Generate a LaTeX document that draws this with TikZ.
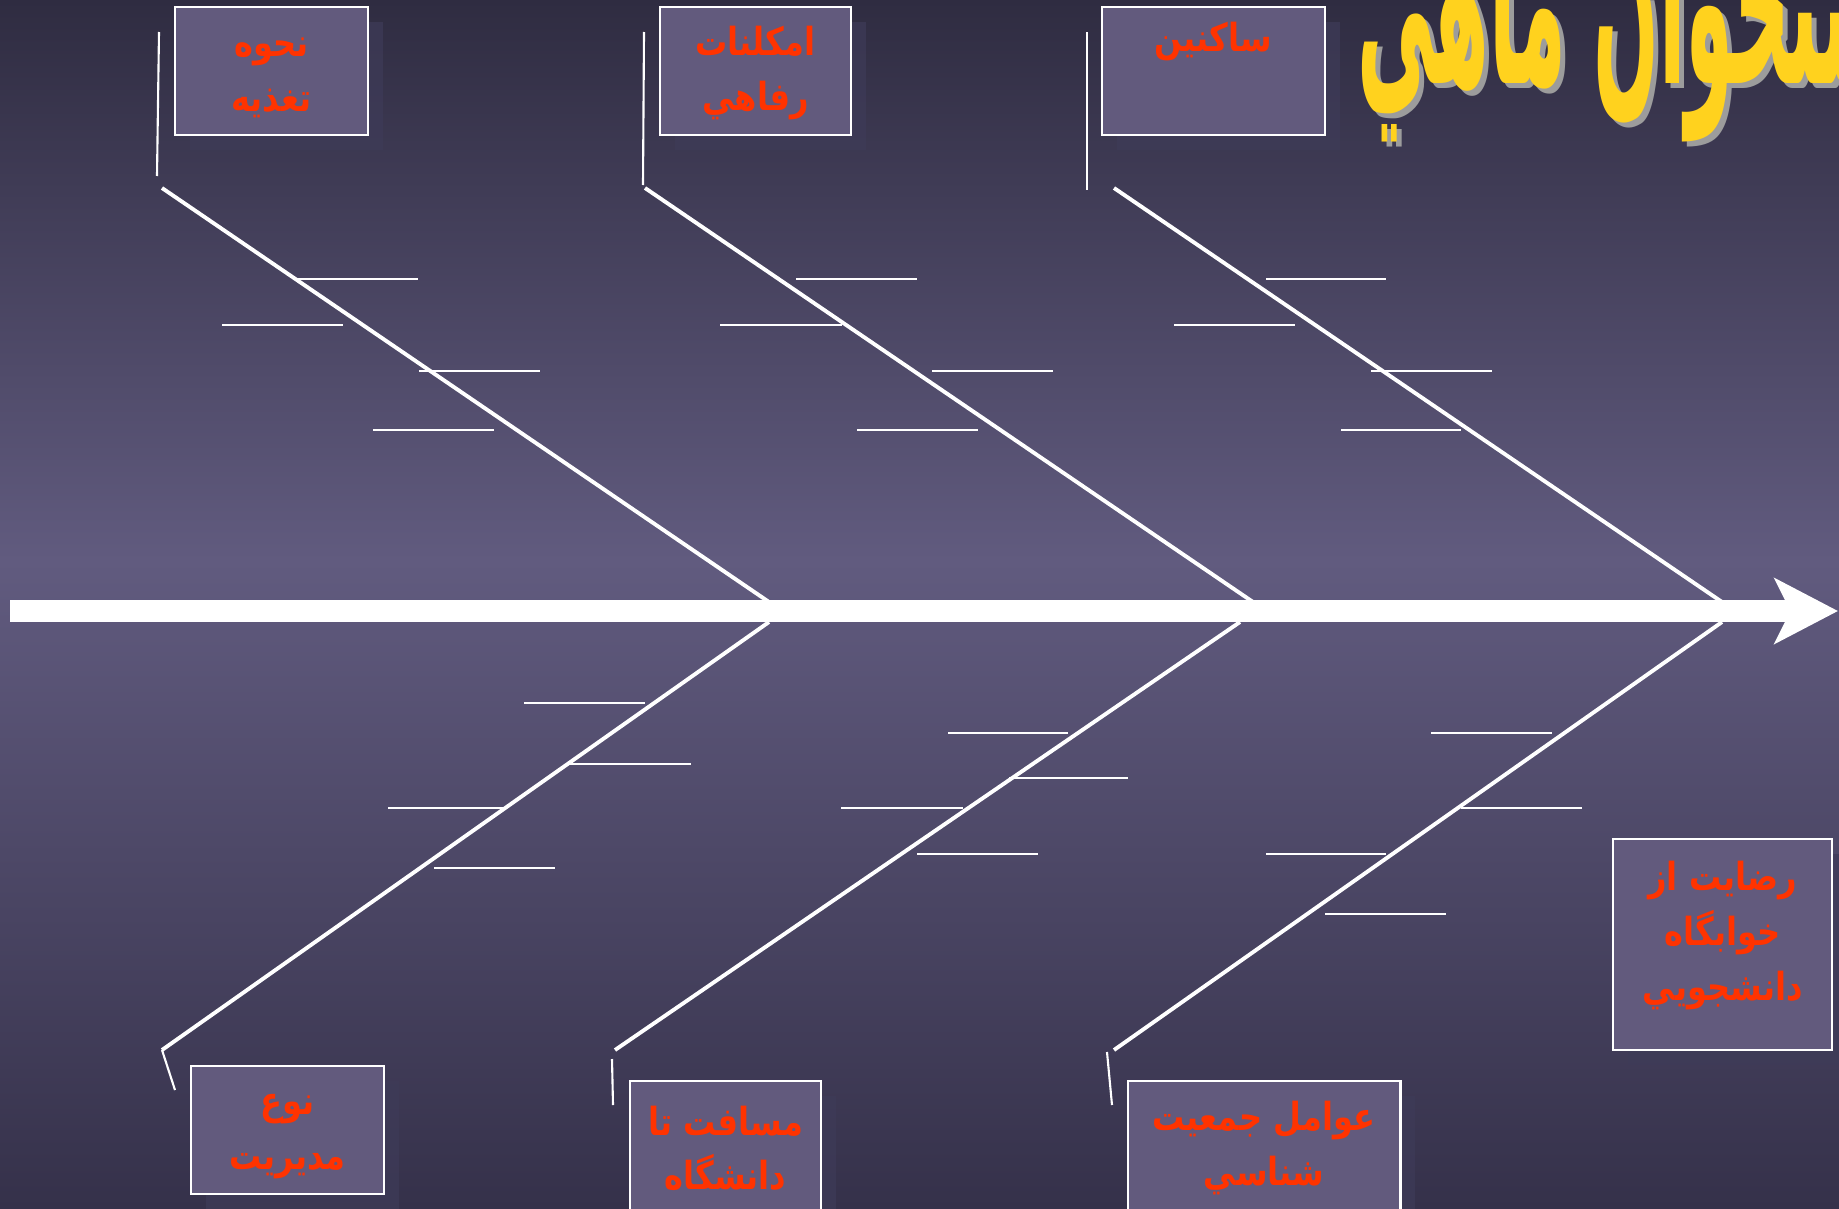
\documentclass[tikz,border=0pt]{standalone}
\usepackage{fontspec}
\usepackage{xcolor}
\usepackage{tikz}
\usetikzlibrary{positioning,arrows.meta,shadows}
\TeXXeTstate=1
\newfontfamily\arabicfont[Script=Arabic, FakeStretch=0.83]{DejaVu Sans}
\newfontfamily\titlefont[Script=Arabic]{DejaVu Sans}
\newcommand{\fa}[1]{\beginR #1\endR}

\definecolor{bgtop}{HTML}{2F2C41}
\definecolor{bgmid}{HTML}{615B7F}
\definecolor{bgbot}{HTML}{35314A}
\definecolor{boxfill}{HTML}{625A7D}
\definecolor{boxshade}{HTML}{3E3B58}
\definecolor{labelred}{HTML}{FF3300}
\definecolor{titleyellow}{HTML}{FFD21E}
\definecolor{titleshade}{HTML}{9C9C9C}

\tikzset{
  cause/.style={rectangle, fill=boxfill, draw=white, line width=0.8pt,
    minimum width=1.93cm, minimum height=1.28cm, inner sep=0pt, align=center,
    text=labelred, font=\arabicfont\bfseries\fontsize{11}{15.6}\selectfont,
    execute at begin node={\rule{0pt}{25pt}},
    drop shadow={fill=boxshade, opacity=0.7, shadow xshift=0.15cm, shadow yshift=-0.15cm}},
  effect/.style={cause, minimum width=2.19cm, minimum height=2.11cm,
    execute at begin node={}, execute at end node={\rule[-8pt]{0pt}{8pt}}},
  spine/.style={draw=white, line width=6pt, -{Stealth[length=18pt,width=18.5pt,inset=4.5pt]}},
  bone/.style={draw=white, line width=1.1pt},
  tick/.style={draw=white, line width=0.45pt},
  stub/.style={draw=white, line width=0.6pt},
  titletext/.style={inner sep=0pt, xscale=0.5, yscale=1.55,
    font=\titlefont\bfseries\fontsize{44}{44}\selectfont}
}

\begin{document}
\begin{tikzpicture}[x={(0.01cm,0)}, y={(0,-0.01cm)}]
  \useasboundingbox (0,0) rectangle (1839,1209);
  \clip (0,0) rectangle (1839,1209);

  % Background
  \fill[top color=bgtop, bottom color=bgmid] (0,0) rectangle (1839,561);
  \fill[top color=bgmid, bottom color=bgbot] (0,560) rectangle (1839,1209);

  % Bone ends
  \coordinate (t1a) at (162,188);  \coordinate (t1b) at (769,602);
  \coordinate (t2a) at (645,188);  \coordinate (t2b) at (1253,602);
  \coordinate (t3a) at (1114,188); \coordinate (t3b) at (1722,602);
  \coordinate (b1a) at (769,622);  \coordinate (b1b) at (162,1050);
  \coordinate (b2a) at (1240,622); \coordinate (b2b) at (615,1050);
  \coordinate (b3a) at (1722,622); \coordinate (b3b) at (1114,1050);

  % Stubs next to the boxes
  \coordinate (s1) at (159,32);   \draw[stub] (s1) -- (157,176);
  \coordinate (s2) at (644,32);   \draw[stub] (s2) -- (643,185);
  \coordinate (s3) at (1087,32);  \draw[stub] (s3) -- (1087,190);
  \draw[stub] (b1b) -- (175,1090);
  \coordinate (s5) at (612,1059); \draw[stub] (s5) -- (613,1105);
  \coordinate (s6) at (1107,1052);\draw[stub] (s6) -- (1112,1105);

  % Spine
  \coordinate (tail) at (10,611);
  \coordinate (head) at (1838,611);
  \draw[spine] (tail) -- (head);

  % Bones
  \draw[bone] (t1a) -- (t1b);
  \draw[bone] (t2a) -- (t2b);
  \draw[bone] (t3a) -- (t3b);
  \draw[bone] (b1a) -- (b1b);
  \draw[bone] (b2a) -- (b2b);
  \draw[bone] (b3a) -- (b3b);

  % Empty sub-causes, upper bones
  \draw[tick] (298,279) -- (418,279);   \draw[tick] (222,325) -- (343,325);
  \draw[tick] (419,371) -- (540,371);   \draw[tick] (373,430) -- (494,430);
  \draw[tick] (796,279) -- (917,279);   \draw[tick] (720,325) -- (842,325);
  \draw[tick] (932,371) -- (1053,371);  \draw[tick] (857,430) -- (978,430);
  \draw[tick] (1266,279) -- (1386,279); \draw[tick] (1174,325) -- (1295,325);
  \draw[tick] (1371,371) -- (1492,371); \draw[tick] (1341,430) -- (1461,430);

  % Empty sub-causes, lower bones
  \draw[tick] (524,703) -- (645,703);   \draw[tick] (569,764) -- (691,764);
  \draw[tick] (388,808) -- (504,808);   \draw[tick] (434,868) -- (555,868);
  \draw[tick] (948,733) -- (1068,733);  \draw[tick] (1009,778) -- (1128,778);
  \draw[tick] (841,808) -- (963,808);   \draw[tick] (917,854) -- (1038,854);
  \draw[tick] (1431,733) -- (1552,733); \draw[tick] (1461,808) -- (1582,808);
  \draw[tick] (1266,854) -- (1386,854); \draw[tick] (1325,914) -- (1446,914);

  % Cause boxes
  \node[cause] (food) at (271.5,71) {\fa{نحوه}\\\fa{تغذيه}};
  \node[cause, minimum width=1.91cm] (welfare) at (755.5,71) {\fa{امكلنات}\\\fa{رفاهي}};
  \node[cause, minimum width=2.23cm] (residents) at (1213.5,71) {\fa{ساكنين}\\\strut};
  \node[cause] (manage) at (287.5,1130) {\fa{نوع}\\\fa{مديريت}};
  \node[cause, minimum width=1.91cm, minimum height=1.31cm] (distance) at (725.5,1146.5) {\fa{مسافت تا}\\\fa{دانشگاه}};
  \node[cause, minimum width=2.72cm, minimum height=1.31cm] (demog) at (1264,1146.5) {\fa{عوامل جمعيت}\\\fa{شناسي}};

  % Effect box
  \node[effect] (result) at (1722.5,944.5) {\fa{رضايت از}\\\fa{خوابگاه}\\\fa{دانشجويي}};

  % Title (runs off the page)
  \node[titletext, text=titleshade, anchor=base west] (titleshadow) at (1362,88) {\fa{استخوان ماهي}};
  \node[titletext, text=titleyellow, anchor=base west] (title) at (1357,83) {\fa{استخوان ماهي}};
\end{tikzpicture}
\end{document}
